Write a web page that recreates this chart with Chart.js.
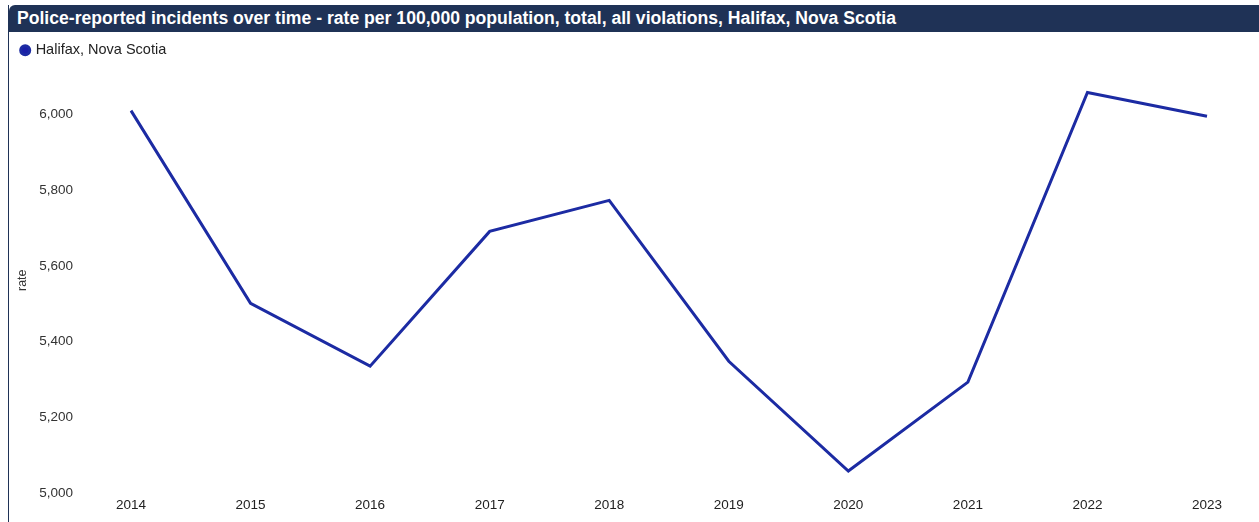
<!DOCTYPE html>
<html><head><meta charset="utf-8">
<script src="https://cdn.jsdelivr.net/npm/chart.js@4.4.1/dist/chart.umd.min.js"></script>
<style>
html,body{margin:0;padding:0;background:#fff;width:1259px;height:522px;overflow:hidden;font-family:"Liberation Sans",Arial,sans-serif;}
#frame{position:absolute;left:8px;top:5px;width:1251px;height:517px;border-left:1px solid #1f3256;}
#title{position:absolute;left:0;top:0;width:1251px;height:27px;background:#1f3256;border-top-left-radius:6px;color:#fff;font-weight:bold;font-size:17.6px;line-height:27px;padding-left:8px;box-sizing:border-box;white-space:nowrap;}
#wrap{position:absolute;left:9px;top:33px;width:1250px;height:489px;}
</style></head><body>
<div id="frame"><div id="title">Police-reported incidents over time - rate per 100,000 population, total, all violations, Halifax, Nova Scotia</div></div>
<div id="wrap"><canvas id="c"></canvas></div>
<script>
const years = ["2014","2015","2016","2017","2018","2019","2020","2021","2022","2023"];
const seriesName = "Halifax, Nova Scotia";
const rates = [6010, 5501, 5335, 5691, 5773, 5348, 5058, 5293, 6058, 5995];
const yTicks = [5000, 5200, 5400, 5600, 5800, 6000];
const yMin = 5000, yMax = 6124;
const FONT = '"Liberation Sans", Arial, sans-serif';

new Chart(document.getElementById('c'), {
  type: 'line',
  data: { labels: years, datasets: [{ label: seriesName, data: rates, borderColor: '#1c2ba3', backgroundColor: '#1a1fa8', borderWidth: 3, pointRadius: 0, pointHoverRadius: 0, tension: 0, fill: false }] },
  options: {
    responsive: true, maintainAspectRatio: false, animation: false,
    layout: { padding: { left: 3, right: 52, top: 0, bottom: 0 } },
    plugins: {
      legend: { display: true, position: 'top', align: 'start',
        labels: { usePointStyle: true, pointStyle: 'circle', boxWidth: 6.4, boxHeight: 6.4, padding: 10, color: '#222', font: { family: FONT, size: 14.5 } } },
      tooltip: { enabled: false }
    },
    scales: {
      x: { offset: false, grid: { display: false, drawTicks: false }, border: { display: false },
        ticks: { color: '#222', padding: 4, font: { family: FONT, size: 13.5 }, maxRotation: 0 },
        afterFit: s => { s.height = 29; } },
      y: { min: yMin, max: yMax, grid: { display: false, drawTicks: false }, border: { display: false },
        afterBuildTicks: s => { s.ticks = yTicks.map(v => ({ value: v })); },
        ticks: { color: '#333', padding: 58, font: { family: FONT, size: 13.5 }, callback: v => v.toLocaleString('en-US') },
        title: { display: true, text: 'rate', color: '#333', padding: 3, font: { family: FONT, size: 12.5 } },
        afterFit: s => { s.width = 119; s.paddingTop = 0; s.paddingBottom = 0; } }
    }
  }
});
</script>
</body></html>
